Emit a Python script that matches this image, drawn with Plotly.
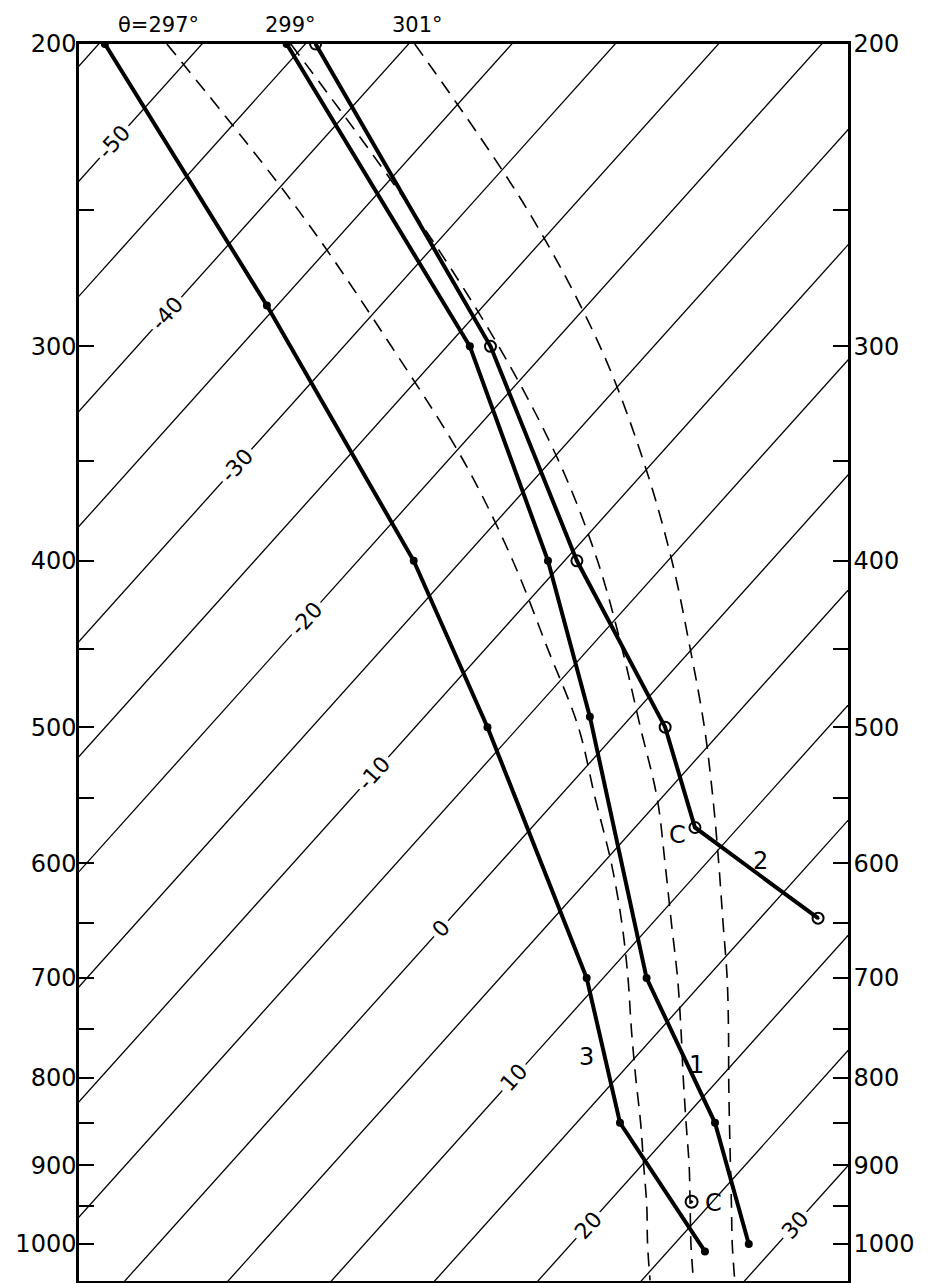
import numpy as np
import plotly.graph_objects as go

# ---------------- data ----------------
pressure_ticks = [200, 250, 300, 350, 400, 450, 500, 550, 600, 650, 700, 750, 800, 850, 900, 950, 1000]
pressure_ticktext = ['200', '', '300', '', '400', '', '500', '', '600', '', '700', '', '800', '', '900', '', '1000']

isotherm_T = list(range(-55, 35, 5))
isotherm_label_T = [-50, -40, -30, -20, -10, 0, 10, 20, 30]
isotherm_label_p = [228, 287, 352, 432, 532, 655, 800, 975, 975]

# saturated adiabats (theta_w = 297, 299, 301 K)
adiabat_p = [200, 250, 300, 350, 400, 450, 500, 550, 600, 650, 700, 750, 800, 850, 900, 950, 1000, 1050]
theta_297_T = [-51.7, -38.1, -27.7, -19.2, -12.5, -7.0, -2.1, 1.8, 5.4, 8.5, 11.2, 13.6, 15.9, 18.1, 20.1, 22.0, 23.7, 25.4]
theta_299_T = [-45.7, -32.6, -22.5, -14.6, -8.4, -3.4, 0.9, 4.8, 8.0, 10.9, 13.6, 16.0, 18.2, 20.3, 22.3, 24.1, 25.8, 27.5]
theta_301_T = [-39.7, -27.0, -17.6, -10.5, -4.8, -0.1, 4.0, 7.5, 10.6, 13.4, 16.0, 18.3, 20.4, 22.4, 24.3, 26.1, 27.8, 29.5]
theta_labels = ['θ=297°', '299°', '301°']

# soundings
s1_p = [200, 300, 400, 493, 700, 850, 1000]
s1_T = [-45.9, -23.9, -10.8, -2.0, 12.1, 21.7, 28.6]
s2_p = [200, 300, 400, 500, 572, 646]
s2_T = [-44.5, -22.9, -9.4, 2.1, 7.9, 17.8]
s3_p = [200, 284, 400, 500, 700, 850, 1010]
s3_T = [-54.7, -35.5, -17.3, -6.5, 9.2, 17.1, 26.8]
cond_p = [945]
cond_T = [24.0]

curve_labels = ['1', '2', '3', 'C', 'C']
curve_label_T = [18.3, 12.5, 12.6, 7.4, 25.1]
curve_label_p = [787, 598, 778, 578, 946]

# ---------------- chart geometry ----------------
SKEW = 32.39          # degC per unit of ln(p)
P_TOP, P_BOT = 200, 1050.9
X_RANGE = [-3.824, 33.403]


def skew_x(T, p):
    return np.asarray(T, float) + SKEW * np.log(1000.0 / np.asarray(p, float))


FONT = 'DejaVu Sans'
fig = go.Figure()

# isotherms
for T in isotherm_T:
    pp = np.array([150.0, 1200.0])
    fig.add_trace(go.Scatter(x=skew_x([T, T], pp), y=pp, mode='lines',
                             line=dict(color='black', width=1.3),
                             hoverinfo='skip', showlegend=False))

# saturated adiabats
for Ts in (theta_297_T, theta_299_T, theta_301_T):
    fig.add_trace(go.Scatter(x=skew_x(Ts, adiabat_p), y=adiabat_p, mode='lines',
                             line=dict(color='black', width=1.6, dash='14px,9px', shape='spline'),
                             hoverinfo='skip', showlegend=False))

# soundings
fig.add_trace(go.Scatter(x=skew_x(s3_T, s3_p), y=s3_p, mode='lines+markers',
                         line=dict(color='black', width=4),
                         marker=dict(color='black', size=8), showlegend=False))
fig.add_trace(go.Scatter(x=skew_x(s1_T, s1_p), y=s1_p, mode='lines+markers',
                         line=dict(color='black', width=4),
                         marker=dict(color='black', size=8), showlegend=False))
fig.add_trace(go.Scatter(x=skew_x(s2_T, s2_p), y=s2_p, mode='lines+markers',
                         line=dict(color='black', width=4),
                         marker=dict(symbol='circle-open-dot', color='black', size=11,
                                     line=dict(width=2, color='black')),
                         showlegend=False))
fig.add_trace(go.Scatter(x=skew_x(cond_T, cond_p), y=cond_p, mode='markers',
                         marker=dict(symbol='circle-open-dot', color='black', size=12,
                                     line=dict(width=2, color='black')),
                         showlegend=False))

# helper trace for the right axis
fig.add_trace(go.Scatter(x=[X_RANGE[0]], y=[500], yaxis='y2', mode='lines',
                         line=dict(color='rgba(0,0,0,0)'), hoverinfo='skip', showlegend=False))

annotations = []
for T, p in zip(isotherm_label_T, isotherm_label_p):
    annotations.append(dict(x=float(skew_x(T, p)), y=np.log10(p), xref='x', yref='y',
                            text=str(T), showarrow=False, textangle=-48,
                            font=dict(family=FONT, size=22, color='black'),
                            bgcolor='white', borderpad=3))
for txt, Ts, dx in zip(theta_labels, (theta_297_T, theta_299_T, theta_301_T), (-0.4, 0.0, 0.15)):
    annotations.append(dict(x=float(skew_x(Ts[0], adiabat_p[0])) + dx, y=1.0, xref='x', yref='paper',
                            yanchor='bottom', yshift=5, text=txt, showarrow=False,
                            font=dict(family=FONT, size=21, color='black')))
for txt, T, p in zip(curve_labels, curve_label_T, curve_label_p):
    annotations.append(dict(x=float(skew_x(T, p)), y=np.log10(p), xref='x', yref='y',
                            text=txt, showarrow=False,
                            font=dict(family=FONT, size=24, color='black')))

yaxis_common = dict(type='log', range=[np.log10(P_BOT), np.log10(P_TOP)], autorange=False,
                    tickmode='array', tickvals=pressure_ticks, ticktext=pressure_ticktext,
                    ticks='inside', ticklen=15, tickwidth=2, tickcolor='black',
                    showline=True, linecolor='black', linewidth=2.5,
                    showgrid=False, zeroline=False,
                    tickfont=dict(family=FONT, size=24, color='black'))

# the page body adds an 8px offset, so the figure is 8px smaller than the window
fig.update_layout(
    width=920, height=1275,
    margin=dict(l=71, r=80, t=36, b=2),
    paper_bgcolor='white', plot_bgcolor='white',
    xaxis=dict(range=X_RANGE, showticklabels=False, ticks='', showgrid=False, zeroline=False,
               showline=True, mirror=True, linecolor='black', linewidth=2.5),
    yaxis=dict(**yaxis_common, side='left', ticklabelstandoff=-5),
    yaxis2=dict(**yaxis_common, side='right', overlaying='y', anchor='x', ticklabelstandoff=-2),
    annotations=annotations,
    showlegend=False,
)

fig.write_html('out.html')
